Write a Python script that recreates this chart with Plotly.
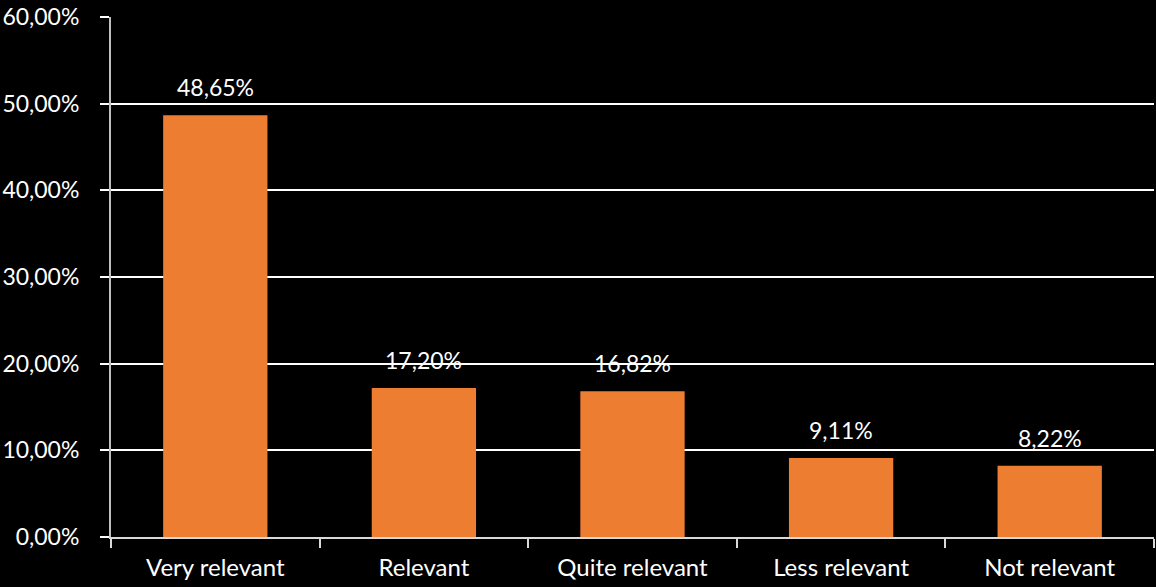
import plotly.graph_objects as go

categories = ["Very relevant", "Relevant", "Quite relevant", "Less relevant", "Not relevant"]
shares = [48.65, 17.20, 16.82, 9.11, 8.22]
y_ticks = [0, 10, 20, 30, 40, 50, 60]

FONT = "Lato"
BAR = "#ED7D31"


def pct(v):
    return f"{v:.2f}%".replace(".", ",")


fig = go.Figure(
    go.Bar(
        x=categories,
        y=shares,
        marker=dict(color=BAR, line=dict(width=0)),
        width=0.5,
        hoverinfo="skip",
    )
)

# value labels above each bar
for c, v in zip(categories, shares):
    fig.add_annotation(
        x=c, y=v, text=pct(v),
        showarrow=False, yanchor="bottom", yshift=12,
        font=dict(family=FONT, size=23, color="white"),
    )

fig.update_layout(
    width=1156, height=587,
    paper_bgcolor="black", plot_bgcolor="black",
    margin=dict(l=110, r=2, t=15, b=50),
    showlegend=False,
    font=dict(family=FONT, size=24, color="white"),
    bargap=0.5,
)
fig.update_xaxes(
    showgrid=False,
    showline=True, linecolor="#d9d9d9", linewidth=2,
    ticks="outside", tickson="boundaries", ticklen=9, tickcolor="#d9d9d9", tickwidth=2,
    ticklabelstandoff=8,
    tickfont=dict(family=FONT, size=24, color="white"),
)
fig.update_yaxes(
    range=[0, 60], tickvals=y_ticks, ticktext=[pct(t) for t in y_ticks],
    showgrid=True, gridcolor="white", gridwidth=2,
    zeroline=False,
    showline=True, linecolor="#bfbfbf", linewidth=2,
    ticks="outside", ticklen=9, tickcolor="white", tickwidth=2,
    ticklabelstandoff=16,
    tickfont=dict(family=FONT, size=23, color="white"),
)

fig.write_html("out.html")
